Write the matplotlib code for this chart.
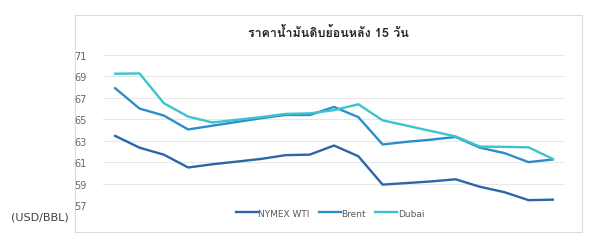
import matplotlib
matplotlib.use("Agg")
import matplotlib.pyplot as plt
from matplotlib.patches import Rectangle
import numpy as np

# daily prices, 19 trading days (USD/BBL)
days = list(range(19))
wti = [63.45, 62.35, 61.7, 60.5, 60.8, 61.05, 61.3, 61.65, 61.7, 62.55,
       61.55, 58.9, 59.05, 59.2, 59.4, 58.7, 58.2, 57.45, 57.5]
brent = [67.9, 66.0, 65.35, 64.05, 64.4, 64.75, 65.1, 65.4, 65.4, 66.15,
         65.2, 62.65, 62.9, 63.1, 63.35, 62.35, 61.85, 61.0, 61.25]
dubai = [69.25, 69.28, 66.5, 65.25, 64.7, 64.95, 65.2, 65.5, 65.55, 65.85,
         66.4, 64.9, 64.4, 63.9, 63.4, 62.45, 62.43, 62.38, 61.3]
y_ticks = [57, 59, 61, 63, 65, 67, 69, 71]

series = [
    ("NYMEX WTI", wti, "#2a66a8"),
    ("Brent", brent, "#2e8cc8"),
    ("Dubai", dubai, "#3cc3cd"),
]

fig = plt.figure(figsize=(6, 2.53), dpi=100)
# chart frame (behind the axes)
fig.patches.append(Rectangle((0.125, 0.079), 0.845, 0.858, transform=fig.transFigure,
                             facecolor="white", edgecolor="#dcdcdc", linewidth=0.8,
                             zorder=-10))
ax = fig.add_axes([0.1717, 0.1858, 0.77, 0.5929])
ax.set_facecolor("none")

for name, vals, color in series:
    ax.plot(days, vals, color=color, linewidth=1.7, label=name, solid_joinstyle="round")

ax.set_xlim(-0.5, len(days) - 0.5)
ax.set_ylim(57, 71)
ax.set_yticks(y_ticks)
ax.set_xticks([])
ax.grid(axis="y", color="#e8e8e8", linewidth=0.8)
ax.set_axisbelow(True)
for s in ax.spines.values():
    s.set_visible(False)
ax.tick_params(axis="y", length=0, pad=12, labelsize=7, labelcolor="#666666")

fig.text(0.547, 0.868, "ราคาน้ำมันดิบย้อนหลัง 15 วัน", ha="center", va="center",
         fontsize=9, fontweight="bold", color="#262626", family=["Loma", "DejaVu Sans"])
fig.text(0.067, 0.142, "(USD/BBL)", ha="center", va="center", fontsize=8, color="#404040")

ax.legend(loc="center", bbox_to_anchor=(0.55, 0.154), bbox_transform=fig.transFigure,
          ncol=3, frameon=False, fontsize=6.5, handlelength=2.4, handletextpad=0.1,
          columnspacing=1.0, labelcolor="#595959")

fig.savefig("out.png", dpi=100)
